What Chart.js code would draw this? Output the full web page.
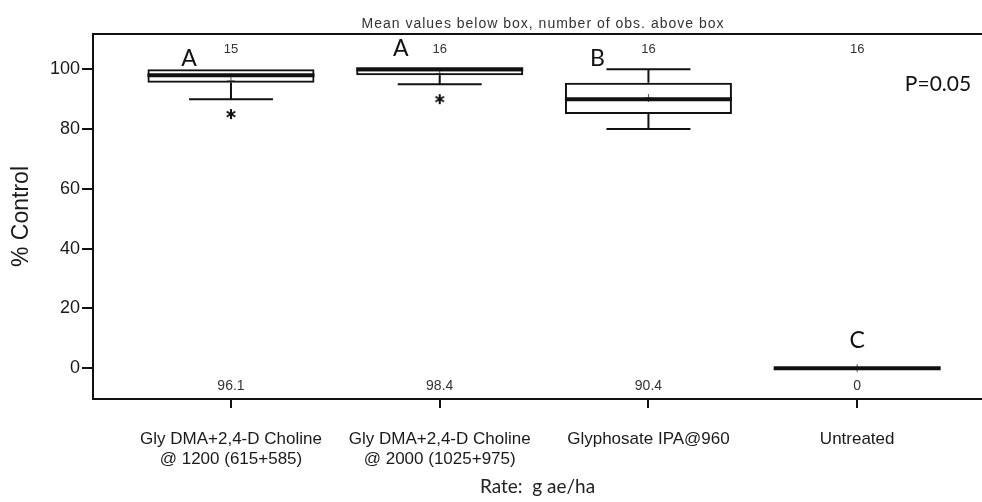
<html>
<head>
    <title>% Control by treatment</title>
    <script src="https://cdn.jsdelivr.net/npm/chart.js"></script>
    <style>
        body { margin: 0; background: #fff; }
        #wrap { width: 982px; height: 502px; }
    </style>
</head>
<body>
<div id="wrap"><canvas id="boxChart" width="982" height="502"></canvas></div>
<script>
    // treatments on the x axis (one entry per box, lines of the label)
    const treatments = [
        ['Gly DMA+2,4-D Choline', '@ 1200 (615+585)'],
        ['Gly DMA+2,4-D Choline', '@ 2000 (1025+975)'],
        ['Glyphosate IPA@960'],
        ['Untreated']
    ];
    // box plot stats (% control)
    const whiskerLow  = [90, 95, 80, 0];
    const q1          = [95.5, 98, 85, 0];
    const median      = [98, 100, 90, 0];
    const q3          = [100, 100, 95.5, 0];
    const whiskerHigh = [100, 100, 100, 0];
    const means       = [96.1, 98.4, 90.4, 0];
    const nObs        = [15, 16, 16, 16];
    const outliers    = [[85], [90], [], []];
    const letters     = ['A', 'A', 'B', 'C'];
    const yTicks      = [0, 20, 40, 60, 80, 100];

    const topNote = 'Mean values below box, number of obs. above box';
    const pNote = 'P=0.05';

    const ink = '#111';
    const arial = '"Liberation Sans", Arial, sans-serif';
    const calibri = 'Lato, "Open Sans", sans-serif';

    // build the marks from the arrays
    const pos = treatments.map((t, i) => i + 1);
    const boxes = pos.map((x, i) => ({ x: x, y: [q1[i], q3[i]] }));
    const medians = pos.map((x, i) => ({ x: x, y: median[i] }));
    const meanPts = pos.map((x, i) => ({ x: x, y: means[i] }));
    const stems = [];
    const caps = [];
    pos.forEach((x, i) => {
        if (whiskerLow[i] < q1[i]) {
            stems.push({ x: x, y: q1[i] }, { x: x, y: whiskerLow[i] }, { x: x, y: null });
            caps.push({ x: x, y: whiskerLow[i] });
        }
        if (whiskerHigh[i] > q3[i]) {
            stems.push({ x: x, y: q3[i] }, { x: x, y: whiskerHigh[i] }, { x: x, y: null });
            caps.push({ x: x, y: whiskerHigh[i] });
        }
    });
    const outPts = [];
    pos.forEach((x, i) => outliers[i].forEach(v => outPts.push({ x: x, y: v })));

    // six-armed asterisk used as the outlier point style
    const star = document.createElement('canvas');
    star.width = 12; star.height = 12;
    (function () {
        const c = star.getContext('2d');
        c.strokeStyle = ink;
        c.lineWidth = 2;
        c.translate(6, 6);
        [90, 30, 150].forEach(deg => {
            const r = deg * Math.PI / 180;
            c.beginPath();
            c.moveTo(Math.cos(r) * 5, Math.sin(r) * 5);
            c.lineTo(-Math.cos(r) * 5, -Math.sin(r) * 5);
            c.stroke();
        });
    })();

    // where the group letters sit relative to each box (px)
    const letterDx = [-42, -39, -51, 0];
    const letterY = [59, 49, 59, 341];

    const annotate = {
        id: 'annotate',
        afterDraw(chart) {
            const { ctx, chartArea: a, scales: { x, y } } = chart;
            ctx.save();
            // top edge of the frame
            ctx.strokeStyle = ink;
            ctx.lineWidth = 2;
            ctx.beginPath();
            ctx.moveTo(a.left - 1, a.top);
            ctx.lineTo(a.right, a.top);
            ctx.stroke();

            ctx.textAlign = 'center';
            ctx.textBaseline = 'middle';
            ctx.fillStyle = '#333';
            ctx.font = '14px ' + arial;
            ctx.letterSpacing = '1px';
            ctx.fillText(topNote, 543, a.top - 10);
            ctx.letterSpacing = '0px';

            pos.forEach((v, i) => {
                const px = x.getPixelForValue(v);
                ctx.fillStyle = '#333';
                ctx.font = '13px ' + arial;
                ctx.fillText(String(nObs[i]), px, a.top + 15);
                ctx.font = '14px ' + arial;
                ctx.fillText(String(means[i]), px, a.bottom - 13);
                ctx.fillStyle = ink;
                ctx.font = '23px ' + calibri;
                ctx.fillText(letters[i], px + letterDx[i], letterY[i]);
            });

            ctx.font = '21px ' + calibri;
            ctx.fillStyle = ink;
            ctx.fillText(pNote, 938, 84);
            ctx.restore();
        }
    };

    const ctx = document.getElementById('boxChart').getContext('2d');
    new Chart(ctx, {
        data: {
            datasets: [
                {
                    type: 'bar', label: 'box', data: boxes,
                    backgroundColor: 'rgba(0,0,0,0)', borderColor: ink, borderWidth: 2,
                    borderSkipped: false, grouped: false,
                    categoryPercentage: 1, barPercentage: 0.8
                },
                {
                    type: 'line', label: 'whiskers', data: stems,
                    borderColor: ink, borderWidth: 2, pointRadius: 0, spanGaps: false
                },
                {
                    type: 'scatter', label: 'caps', data: caps,
                    pointStyle: 'line', pointRadius: 42, borderColor: ink, borderWidth: 2
                },
                {
                    type: 'scatter', label: 'median', data: medians,
                    pointStyle: 'line', pointRadius: 83.5, borderColor: ink, borderWidth: 4
                },
                {
                    type: 'scatter', label: 'mean', data: meanPts,
                    pointStyle: 'cross', pointRadius: 4, borderColor: '#555', borderWidth: 1
                },
                {
                    type: 'scatter', label: 'outliers', data: outPts,
                    pointStyle: star, pointRadius: 6
                }
            ]
        },
        options: {
            responsive: false,
            animation: false,
            layout: { autoPadding: false, padding: { top: 34, right: 0, bottom: 0, left: 0 } },
            plugins: {
                legend: { display: false },
                tooltip: { enabled: false }
            },
            scales: {
                x: {
                    type: 'linear',
                    min: 0.339,
                    max: 4.598,
                    offset: false,
                    afterBuildTicks: s => { s.ticks = pos.map(v => ({ value: v })); },
                    afterFit: s => { s.height = 103; },
                    ticks: {
                        callback: v => treatments[v - 1],
                        font: { family: arial, size: 17 },
                        color: '#1a1a1a',
                        padding: 21,
                        maxRotation: 0,
                        autoSkip: false
                    },
                    grid: { offset: false, drawOnChartArea: false, tickLength: 9, color: ink, lineWidth: 2 },
                    border: { color: ink, width: 2 },
                    title: {
                        display: true,
                        text: 'Rate:  g ae/ha',
                        font: { family: calibri, size: 19 },
                        color: '#222',
                        padding: { top: 0, bottom: 4 }
                    }
                },
                y: {
                    min: -10.3,
                    max: 111.8,
                    afterBuildTicks: s => { s.ticks = yTicks.map(v => ({ value: v })); },
                    afterFit: s => { s.width = 93; },
                    ticks: {
                        font: { family: arial, size: 18 },
                        color: '#1a1a1a',
                        padding: 2
                    },
                    grid: { drawOnChartArea: false, tickLength: 11, color: ink, lineWidth: 2 },
                    border: { color: ink, width: 2 },
                    title: {
                        display: true,
                        text: '% Control',
                        font: { family: arial, size: 23 },
                        color: '#1a1a1a',
                        padding: { top: 8, bottom: 0 }
                    }
                }
            }
        },
        plugins: [annotate]
    });
</script>
</body>
</html>
